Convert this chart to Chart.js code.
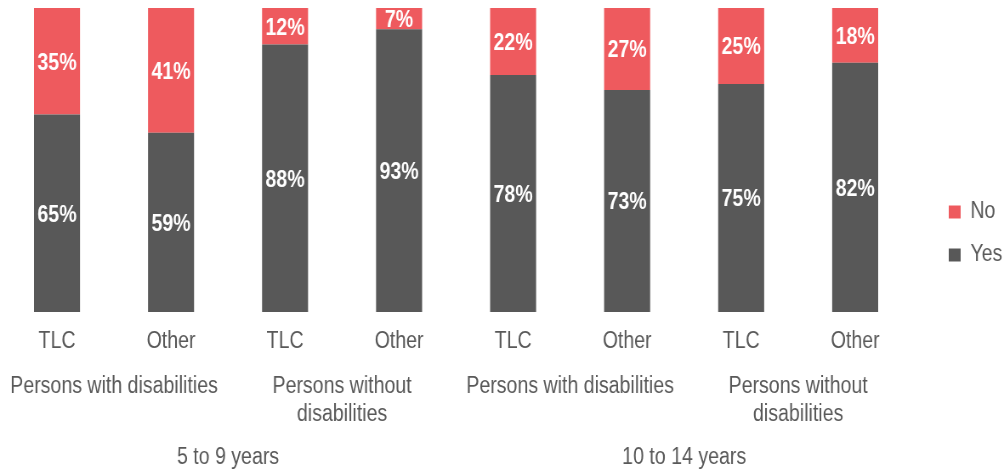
<!DOCTYPE html>
<html>
<head>
<meta charset="utf-8">
<script src="https://cdn.jsdelivr.net/npm/chart.js@4.4.0/dist/chart.umd.min.js"></script>
<style>
  html, body { margin: 0; padding: 0; background: #ffffff; }
  canvas { display: block; }
</style>
</head>
<body>
<!-- drawn on a wider canvas and shown condensed, giving the narrow lettering -->
<canvas id="chart" width="1181" height="473" style="width:1004px;height:473px"></canvas>
<script>
const categories = ['TLC', 'Other', 'TLC', 'Other', 'TLC', 'Other', 'TLC', 'Other'];
const groupLabels = [
  'Persons with disabilities',
  ['Persons without', 'disabilities'],
  'Persons with disabilities',
  ['Persons without', 'disabilities']
];
const ageBands = ['5 to 9 years', '10 to 14 years'];
const yesValues = [65, 59, 88, 93, 78, 73, 75, 82];
const noValues = [35, 41, 12, 7, 22, 27, 25, 18];

const FONT = '"Liberation Sans", Arial, Helvetica, sans-serif';
const TEXT = '#595959';
const YES_COLOR = '#585858';
const NO_COLOR = '#EE5A5E';

// white percentage label centred in every stacked segment
const segmentLabels = {
  id: 'segmentLabels',
  afterDatasetsDraw(chart) {
    const ctx = chart.ctx;
    ctx.save();
    ctx.font = 'bold 23px ' + FONT;
    ctx.fillStyle = '#ffffff';
    ctx.textAlign = 'center';
    ctx.textBaseline = 'middle';
    chart.data.datasets.forEach((ds, i) => {
      const meta = chart.getDatasetMeta(i);
      meta.data.forEach((bar, j) => {
        const p = bar.getProps(['x', 'y', 'base'], true);
        ctx.fillText(ds.data[j] + '%', p.x, (p.y + p.base) / 2 + 2);
      });
    });
    ctx.restore();
  }
};

const tickFont = { family: FONT, size: 23, lineHeight: 1.2 };
const plainAxis = (extra) => Object.assign({
  grid: { display: false, drawTicks: false },
  border: { display: false }
}, extra);

new Chart(document.getElementById('chart'), {
  type: 'bar',
  data: {
    labels: categories,
    datasets: [
      { label: 'Yes', data: yesValues, backgroundColor: YES_COLOR, borderWidth: 0,
        barPercentage: 0.4035, categoryPercentage: 1 },
      { label: 'No', data: noValues, backgroundColor: NO_COLOR, borderWidth: 0,
        barPercentage: 0.4035, categoryPercentage: 1 }
    ]
  },
  options: {
    responsive: false,
    devicePixelRatio: 1,
    animation: false,
    layout: { padding: { top: 8, left: 0, right: 0, bottom: 14 } },
    plugins: {
      legend: {
        position: 'right',
        reverse: true,
        maxWidth: 85,
        labels: {
          color: TEXT,
          font: { family: FONT, size: 23 },
          boxWidth: 14,
          boxHeight: 13,
          padding: 20
        }
      },
      tooltip: { enabled: false }
    },
    scales: {
      x: plainAxis({
        stacked: true,
        ticks: { color: TEXT, font: tickFont, padding: 16.2, maxRotation: 0, autoSkip: false },
        afterFit(scale) { scale.height = 60; }
      }),
      x2: plainAxis({
        type: 'category',
        labels: groupLabels,
        position: 'bottom',
        offset: true,
        weight: 1,
        ticks: { color: TEXT, font: tickFont, padding: 1.2, maxRotation: 0, autoSkip: false },
        afterFit(scale) { scale.height = 57.6; }
      }),
      // outermost row: mirrored ticks are not clipped to the short axis box;
      // with mirroring the padding runs upward, so a negative value moves the text down
      x3: plainAxis({
        type: 'category',
        labels: ageBands,
        position: 'bottom',
        offset: true,
        weight: 2,
        ticks: { color: TEXT, font: tickFont, padding: -42.2, mirror: true, maxRotation: 0, autoSkip: false },
        afterFit(scale) { scale.height = 29.4; }
      }),
      y: plainAxis({
        stacked: true,
        position: 'right',
        min: 0,
        max: 100,
        ticks: { display: false },
        afterFit(scale) { scale.width = 23; }
      })
    }
  },
  plugins: [segmentLabels]
});
</script>
</body>
</html>
